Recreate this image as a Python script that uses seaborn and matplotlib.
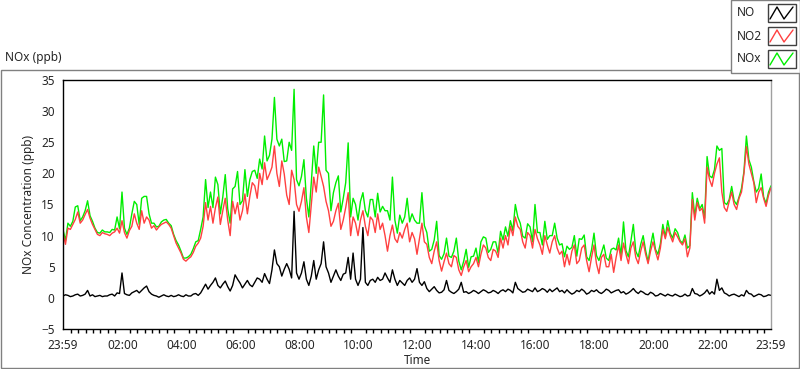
import numpy as np
import pandas as pd
import seaborn as sns
import matplotlib.pyplot as plt
from matplotlib.patches import Rectangle
from matplotlib.lines import Line2D
from matplotlib.ticker import FixedLocator

# readings every 5 minutes, starting 23:59 (one row = one hour)
no2 = [10.5, 8.6, 11.2, 11.0, 11.8, 12.6, 13.8, 12.0, 12.5, 13.4, 14.2, 12.8,
       11.8, 11.0, 10.2, 10.0, 10.5, 10.3, 10.2, 10.0, 10.4, 10.6, 11.2, 10.4,
       12.4, 10.5, 9.6, 10.8, 11.5, 13.5, 12.0, 11.0, 14.0, 12.0, 13.0, 12.5,
       11.2, 11.6, 10.9, 11.4, 11.8, 12.0, 12.2, 11.8, 11.2, 10.0, 8.8, 8.0,
       7.2, 6.2, 5.9, 6.3, 6.6, 7.3, 8.3, 8.8, 9.6, 11.5, 15.3, 12.5,
       14.7, 12.0, 14.5, 16.2, 11.8, 14.0, 16.0, 12.5, 10.0, 15.5, 13.5, 15.3,
       12.5, 14.0, 16.7, 13.5, 16.3, 18.5, 18.0, 16.0, 20.0, 18.2, 21.7, 19.0,
       19.9, 21.0, 24.4, 20.0, 17.9, 22.0, 19.9, 16.5, 15.0, 20.5, 19.0, 15.0,
       13.9, 15.5, 17.7, 13.0, 10.5, 15.0, 19.4, 17.0, 21.0, 19.5, 17.9, 15.5,
       14.0, 11.5, 12.3, 14.0, 15.2, 11.0, 12.5, 14.5, 16.9, 10.0, 13.0, 12.0,
       10.0, 12.5, 14.0, 11.5, 10.0, 13.0, 12.5, 10.5, 13.5, 11.0, 12.0, 10.0,
       7.5, 10.0, 11.7, 9.5, 8.9, 10.5, 9.6, 11.0, 12.0, 9.0, 10.5, 9.5,
       7.0, 9.5, 12.0, 9.0, 8.6, 6.5, 5.5, 7.5, 9.0, 6.0, 4.3, 5.8,
       7.2, 5.5, 5.0, 6.8, 6.5, 4.5, 3.6, 5.0, 6.0, 4.2, 5.0, 5.5,
       6.5, 5.0, 7.0, 8.5, 8.0, 6.5, 6.0, 7.8, 7.5, 6.5, 9.6, 8.0,
       10.0, 8.5, 11.5, 10.0, 13.0, 11.5, 11.0, 9.0, 8.0, 10.5, 10.0, 8.0,
       11.0, 9.5, 8.5, 7.0, 10.0, 8.5, 7.2, 9.0, 10.0, 8.0, 7.0, 7.5,
       5.0, 7.0, 5.3, 7.5, 8.5, 5.5, 6.0, 8.0, 8.5, 6.0, 4.2, 6.5,
       8.5, 5.5, 3.9, 6.5, 7.0, 5.0, 5.0, 7.0, 4.1, 6.5, 8.5, 6.0,
       8.8, 7.0, 5.5, 8.0, 9.0, 6.5, 5.5, 7.5, 9.0, 7.0, 5.5, 7.5,
       9.0, 7.5, 6.1, 8.0, 11.0, 9.5, 11.3, 10.0, 9.0, 10.5, 9.8, 9.0,
       8.5, 9.5, 6.6, 8.0, 15.8, 12.5, 15.3, 14.0, 14.4, 12.0, 21.0, 19.0,
       17.9, 20.0, 21.5, 22.5, 17.0, 14.5, 13.9, 15.5, 17.0, 15.0, 14.2, 16.0,
       17.0, 20.0, 24.3, 21.5, 20.0, 18.5, 15.3, 17.0, 17.7, 16.0, 14.7, 16.5,
       17.7]

nox = [11.0, 9.2, 12.0, 11.5, 12.3, 14.6, 14.8, 12.4, 13.0, 14.0, 15.6, 13.2,
       12.3, 11.2, 10.5, 10.4, 10.9, 10.6, 10.6, 10.5, 11.0, 10.9, 13.0, 11.1,
       17.0, 11.2, 10.2, 11.2, 13.5, 15.5, 15.0, 11.8, 16.0, 16.3, 16.3, 13.5,
       12.0, 12.0, 11.4, 11.5, 12.2, 12.5, 12.6, 12.0, 11.6, 10.2, 9.2, 8.5,
       7.5, 6.4, 6.4, 6.6, 7.0, 7.9, 9.0, 9.2, 11.0, 13.0, 19.0, 14.5,
       17.0, 14.5, 19.4, 18.2, 13.5, 16.2, 19.8, 14.3, 12.0, 17.5, 17.9, 20.3,
       15.0, 15.6, 20.6, 16.3, 19.0, 20.3, 20.5, 19.2, 22.3, 20.7, 26.0, 22.0,
       22.9, 25.5, 32.2, 25.5, 24.4, 25.5, 21.9, 22.0, 25.0, 23.7, 33.5, 19.0,
       18.0, 19.5, 22.2, 16.0, 13.0, 18.5, 24.4, 20.0, 25.0, 25.0, 32.6, 20.5,
       20.0, 14.0, 16.9, 18.5, 19.6, 13.8, 16.0, 18.5, 24.9, 13.0, 16.0, 15.0,
       12.5, 15.5, 16.9, 14.0, 13.0, 15.8, 15.8, 13.0, 16.8, 13.8, 14.7, 14.0,
       14.0, 12.5, 19.4, 12.5, 10.4, 13.3, 12.0, 13.0, 16.0, 12.2, 13.5, 12.5,
       12.0, 12.0, 16.9, 11.6, 10.5, 7.5, 7.8, 9.3, 12.3, 6.8, 6.2, 7.1,
       9.6, 6.7, 6.5, 7.5, 9.6, 5.9, 4.5, 5.9, 7.8, 4.9, 6.6, 6.7,
       8.0, 5.7, 9.0, 9.8, 9.6, 7.3, 7.8, 9.0, 9.0, 7.2, 10.7, 9.3,
       11.4, 9.9, 12.4, 10.8, 15.0, 13.0, 12.0, 9.9, 9.6, 11.9, 11.4, 9.0,
       15.0, 10.5, 10.5, 8.5, 12.3, 9.4, 10.0, 10.0, 12.0, 9.6, 8.5, 8.7,
       6.6, 8.3, 7.8, 8.1, 10.0, 6.7, 9.5, 9.4, 10.1, 6.6, 6.0, 7.7,
       10.4, 6.8, 6.0, 7.2, 8.5, 6.4, 6.0, 7.8, 8.0, 7.7, 9.6, 6.8,
       12.2, 7.6, 6.6, 9.1, 11.8, 7.5, 6.6, 8.6, 10.0, 7.6, 5.8, 8.4,
       10.4, 7.8, 7.0, 8.7, 11.8, 9.8, 12.4, 10.4, 9.6, 11.1, 10.5, 9.2,
       8.8, 10.1, 8.0, 8.4, 16.9, 13.2, 16.0, 14.3, 15.0, 12.8, 22.7, 19.6,
       19.3, 20.6, 24.4, 23.7, 24.0, 15.3, 15.0, 15.8, 17.9, 15.6, 15.0, 16.2,
       17.6, 20.3, 26.0, 22.2, 21.0, 18.7, 17.0, 17.6, 19.9, 16.2, 15.2, 17.0,
       18.0]

no = [0.3, 0.5, 0.4, 0.2, 0.3, 0.5, 0.6, 0.3, 0.4, 0.6, 1.2, 0.3,
      0.5, 0.2, 0.3, 0.4, 0.2, 0.3, 0.3, 0.5, 0.6, 0.3, 0.8, 0.7,
      4.0, 0.7, 0.5, 0.4, 0.8, 1.0, 1.2, 0.8, 1.2, 1.6, 1.9, 1.0,
      0.6, 0.4, 0.3, 0.1, 0.3, 0.5, 0.3, 0.2, 0.4, 0.2, 0.3, 0.5,
      0.3, 0.2, 0.5, 0.3, 0.3, 0.6, 0.7, 0.4, 0.8, 1.5, 2.2, 1.4,
      2.0, 2.5, 3.2, 2.0, 1.6, 2.2, 2.7, 1.8, 1.1, 2.0, 3.7, 3.0,
      2.4, 1.6, 2.2, 2.8, 2.1, 1.8, 2.5, 3.2, 3.0, 2.5, 3.9, 3.0,
      2.3, 4.5, 7.7, 5.5, 5.0, 3.5, 4.6, 5.5, 4.6, 3.2, 13.9, 4.0,
      3.0, 4.0, 5.8, 3.0, 2.0, 3.5, 6.0, 3.0, 4.5, 5.5, 9.0, 5.0,
      4.0, 2.5, 3.5, 4.5, 3.5, 2.8, 3.8, 4.0, 6.5, 3.0, 7.2, 3.0,
      2.0, 3.0, 11.3, 2.5, 2.0, 2.8, 3.0, 2.5, 3.3, 2.8, 3.0, 4.0,
      3.2, 2.5, 4.5, 3.0, 2.0, 2.8, 2.4, 2.0, 2.8, 3.2, 2.5, 3.0,
      4.7, 2.5, 2.0, 2.6, 1.5, 1.0, 1.4, 1.8, 1.2, 0.8, 0.9, 1.3,
      2.8, 1.2, 0.9, 0.7, 1.0, 1.4, 2.5, 0.9, 1.0, 0.7, 0.9, 1.2,
      1.0, 0.7, 1.0, 1.3, 1.1, 0.8, 0.9, 1.2, 1.0, 0.7, 1.1, 1.3,
      1.0, 1.4, 1.2, 0.8, 2.5, 1.5, 1.2, 0.9, 1.0, 1.4, 1.2, 1.0,
      1.6, 1.0, 1.2, 1.5, 1.3, 0.9, 1.4, 1.0, 1.3, 1.6, 1.0, 1.2,
      0.8, 1.3, 0.9, 0.6, 0.8, 1.2, 1.0, 1.4, 1.1, 0.6, 0.8, 1.2,
      1.0, 1.3, 0.9, 0.7, 1.0, 1.4, 1.2, 0.8, 1.0, 1.2, 1.3, 0.8,
      1.0, 0.6, 0.8, 1.1, 1.5, 1.0, 0.7, 1.1, 0.9, 0.6, 0.5, 0.9,
      0.7, 0.3, 0.4, 0.7, 0.5, 0.3, 0.6, 0.4, 0.3, 0.6, 0.4, 0.2,
      0.3, 0.6, 0.3, 0.4, 1.5, 0.7, 0.6, 0.3, 0.5, 0.8, 1.3, 0.6,
      1.0, 0.6, 3.0, 1.2, 1.6, 0.8, 0.6, 0.3, 0.5, 0.6, 0.4, 0.2,
      0.5, 0.3, 1.2, 0.7, 0.6, 0.2, 0.4, 0.6, 0.5, 0.2, 0.3, 0.5,
      0.4]

tick_labels = ['23:59', '02:00', '04:00', '06:00', '08:00', '10:00', '12:00',
               '14:00', '16:00', '18:00', '20:00', '22:00', '23:59']

# hours since 23:59
hours = np.arange(len(no2)) / 12.0
df = pd.DataFrame({'t': hours, 'NO': no, 'NO2': no2, 'NOx': nox})

sns.set_style('white')
plt.rcParams['font.family'] = ['Noto Sans', 'DejaVu Sans']
plt.rcParams['font.size'] = 8.5

W, H = 800, 369
fig = plt.figure(figsize=(W / 100, H / 100), dpi=100)


def fx(x):
    return x / W


def fy(y):
    return 1 - y / H


# outer frame of the graph
fig.patches.append(Rectangle((fx(0.5), fy(367.5)), fx(798), (367.5 - 69.5) / H,
                             transform=fig.transFigure, fill=False,
                             edgecolor='#808080', lw=1, zorder=0))
fig.text(fx(5), fy(58), 'NOx (ppb)', ha='left', va='center', fontsize=8.5)

ax = fig.add_axes([fx(63), fy(329), (771 - 63) / W, (329 - 80) / H])
sns.lineplot(data=df, x='t', y='NOx', color='#00ee00', lw=1, ax=ax)
sns.lineplot(data=df, x='t', y='NO2', color='#ff4040', lw=1, ax=ax)
sns.lineplot(data=df, x='t', y='NO', color='black', lw=1, ax=ax)

ax.set_xlim(0, 24)
ax.set_ylim(-5, 35)
ax.set_yticks(range(-5, 36, 5))
major = [0] + [h + 1 / 60 for h in range(2, 24, 2)] + [24]
ax.xaxis.set_major_locator(FixedLocator(major))
ax.set_xticklabels(tick_labels)
minor = [1 / 60 + 0.25 * i for i in range(1, 96)]
ax.xaxis.set_minor_locator(FixedLocator(minor))
ax.tick_params(axis='both', which='major', direction='out', length=4, width=1,
               color='black', pad=2, labelsize=8.5)
ax.tick_params(axis='x', which='minor', direction='out', length=3, width=1,
               color='black', bottom=True)
ax.tick_params(axis='x', which='major', length=5, width=1.5)
ax.set_xlabel('Time', fontsize=8.5, labelpad=2)
ax.set_ylabel('NOx Concentration (ppb)', fontsize=8.5, labelpad=4)
for s in ['left', 'bottom', 'top']:
    ax.spines[s].set_color('black')
    ax.spines[s].set_linewidth(1)
ax.spines['right'].set_color('#a0a0a0')
ax.spines['right'].set_linewidth(1)

# legend panel in the top right corner
fig.patches.append(Rectangle((fx(730.5), fy(72.5)), fx(69), 72 / H,
                             transform=fig.transFigure, facecolor='white',
                             edgecolor='#808080', lw=1, zorder=5))
rows = [('NO', 'black', 13), ('NO2', '#ff4040', 36), ('NOx', '#00ee00', 59)]
for name, col, yc in rows:
    fig.text(fx(737), fy(yc), name, ha='left', va='center', fontsize=8.5, zorder=6)
    fig.patches.append(Rectangle((fx(767.5), fy(yc + 9)), fx(28), 18 / H,
                                 transform=fig.transFigure, fill=False,
                                 edgecolor='#404040', lw=1, zorder=6))
    xs = [770, 777, 784, 793]
    ys = [yc + 6, yc - 6, yc + 6, yc - 6]
    fig.lines.append(Line2D([fx(v) for v in xs], [fy(v) for v in ys],
                            transform=fig.transFigure, color=col, lw=1, zorder=7))

fig.savefig('out.png', dpi=100, facecolor='white')
